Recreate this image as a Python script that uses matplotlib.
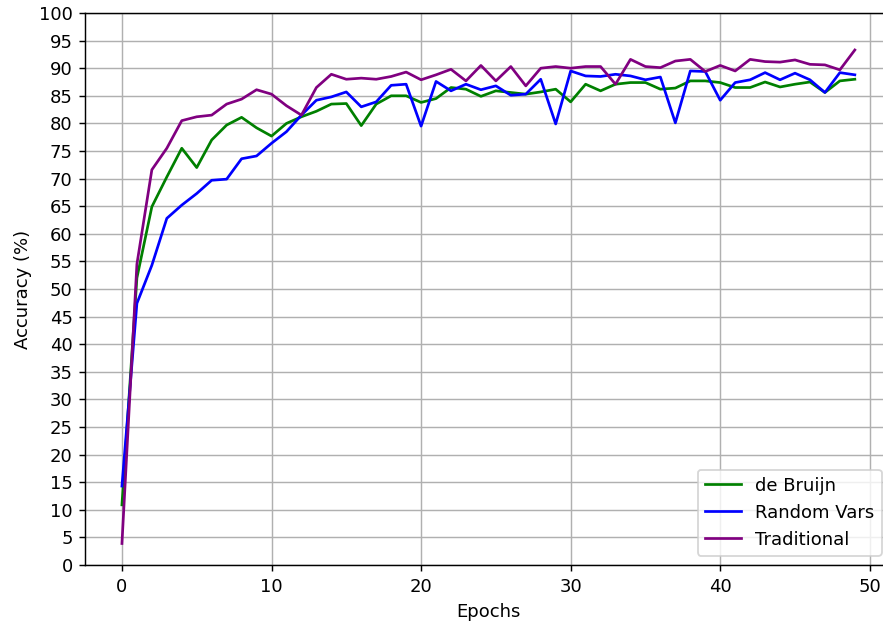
import numpy as np
import matplotlib
matplotlib.use("Agg")
import matplotlib.pyplot as plt

# data
epochs = np.arange(50)

de_bruijn = [10.9, 52.0, 64.9, 70.3, 75.5, 72.0, 77.0, 79.7, 81.1, 79.2,
             77.7, 80.0, 81.2, 82.2, 83.5, 83.6, 79.6, 83.5, 85.0, 85.0,
             83.8, 84.5, 86.5, 86.2, 84.9, 85.9, 85.6, 85.3, 85.7, 86.2,
             83.9, 87.1, 85.9, 87.1, 87.4, 87.4, 86.2, 86.4, 87.7, 87.7,
             87.4, 86.5, 86.5, 87.5, 86.6, 87.1, 87.5, 85.6, 87.7, 88.0]

random_vars = [14.3, 47.4, 54.3, 62.8, 65.2, 67.3, 69.7, 69.9, 73.6, 74.1,
               76.4, 78.5, 81.5, 84.2, 84.8, 85.7, 83.0, 83.9, 86.9, 87.1,
               79.5, 87.6, 85.9, 87.1, 86.1, 86.8, 85.1, 85.3, 88.0, 79.9,
               89.5, 88.6, 88.5, 88.9, 88.6, 87.9, 88.4, 80.1, 89.5, 89.4,
               84.2, 87.4, 87.9, 89.2, 87.9, 89.1, 87.9, 85.6, 89.2, 88.8]

traditional = [3.9, 54.5, 71.6, 75.5, 80.5, 81.2, 81.5, 83.5, 84.4, 86.1,
               85.3, 83.2, 81.5, 86.5, 88.9, 88.0, 88.2, 88.0, 88.5, 89.3,
               87.9, 88.8, 89.8, 87.7, 90.5, 87.7, 90.3, 86.8, 90.0, 90.3,
               90.0, 90.3, 90.3, 87.1, 91.6, 90.3, 90.1, 91.3, 91.6, 89.4,
               90.5, 89.5, 91.6, 91.2, 91.1, 91.5, 90.7, 90.6, 89.7, 93.3]

dpi = 130
fig = plt.figure(figsize=(883 / dpi, 622 / dpi), dpi=dpi)
# axes runs past the right edge, as in the cropped reference
ax = fig.add_axes([0.0966, 0.0916, 0.913, 0.8875])

ax.plot(epochs, de_bruijn, color='green', label='de Bruijn')
ax.plot(epochs, random_vars, color='blue', label='Random Vars')
ax.plot(epochs, traditional, color='purple', label='Traditional')

ax.set_xlim(-2.45, 51.45)
ax.set_ylim(0, 100)
ax.set_yticks(np.arange(0, 101, 5))
ax.set_xticks(np.arange(0, 51, 10))
ax.grid(True)
ax.set_xlabel('Epochs')
ax.set_ylabel('Accuracy (%)')
ax.legend(loc='lower right', bbox_to_anchor=(0.988, 0.0163), borderaxespad=0)

fig.savefig('out.png', dpi=dpi)
